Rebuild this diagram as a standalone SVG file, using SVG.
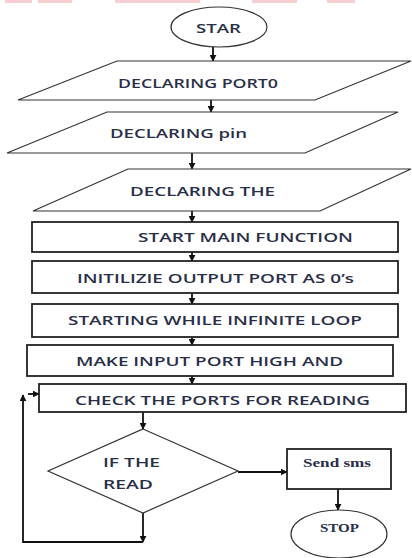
<svg xmlns="http://www.w3.org/2000/svg" width="412" height="558" viewBox="0 0 412 558">
<defs>
<marker id="ah" viewBox="0 0 10 10" refX="9" refY="5" markerWidth="7" markerHeight="7" orient="auto-start-reverse" markerUnits="userSpaceOnUse">
<path d="M0,0 L10,5 L0,10 z" fill="#111"/>
</marker>
<style>
.io{fill:#fff;stroke:#333;stroke-width:1.2}
.box{fill:#fff;stroke:#222;stroke-width:1.8}
.term{fill:#fff;stroke:#333;stroke-width:1.2}
.t{font-family:"Open Sans","Liberation Sans",sans-serif;font-size:13px;font-weight:600;fill:#2a2f48}
.s{font-family:"Liberation Serif","DejaVu Serif",serif;font-size:12px;font-weight:bold;fill:#2a2f48}
.c{fill:none;stroke:#111;stroke-width:1.8}
.wm{fill:#f6cfd2}
</style>
</defs>
<g id="watermark">
<rect class="wm" x="5" y="0" width="27" height="3"/>
<rect class="wm" x="38" y="0" width="34" height="3"/>
<rect class="wm" x="115" y="0" width="85" height="3"/>
<rect class="wm" x="252" y="0" width="45" height="3"/>
<rect class="wm" x="327" y="0" width="28" height="3"/>
</g>
<g id="connectors">
<line class="c" x1="213" y1="47" x2="213" y2="61" marker-end="url(#ah)"/>
<line class="c" x1="211" y1="100" x2="211" y2="112" marker-end="url(#ah)"/>
<line class="c" x1="192" y1="153" x2="192" y2="169" marker-end="url(#ah)"/>
<line class="c" x1="192" y1="211" x2="192" y2="222" marker-end="url(#ah)"/>
<line class="c" x1="192" y1="252" x2="192" y2="261" marker-end="url(#ah)"/>
<line class="c" x1="192" y1="293" x2="192" y2="304" marker-end="url(#ah)"/>
<line class="c" x1="192" y1="337" x2="192" y2="345" marker-end="url(#ah)"/>
<line class="c" x1="192" y1="376" x2="192" y2="384" marker-end="url(#ah)"/>
<line class="c" x1="143" y1="412" x2="143" y2="429" marker-end="url(#ah)"/>
<line class="c" x1="143" y1="513" x2="143" y2="542" marker-end="url(#ah)"/>
<polyline class="c" points="143,542 23,542 23,395" marker-end="url(#ah)"/>
<line class="c" x1="28" y1="394" x2="39" y2="394" marker-end="url(#ah)"/>
<line class="c" x1="238" y1="472" x2="287" y2="472" marker-end="url(#ah)"/>
<line class="c" x1="338" y1="489" x2="338" y2="510" marker-end="url(#ah)"/>
</g>
<g id="start">
<ellipse class="term" cx="219" cy="27" rx="48" ry="20"/>
<text class="t" x="218.5" y="33" text-anchor="middle" font-size="14" textLength="45" lengthAdjust="spacingAndGlyphs">STAR</text>
</g>
<g id="decl-port0">
<polygon class="io" points="117,61 411,61 315,100 18,100"/>
<text class="t" x="118" y="88" textLength="160" lengthAdjust="spacingAndGlyphs">DECLARING PORT0</text>
</g>
<g id="decl-pin">
<polygon class="io" points="107,112 398,112 305,153 7,153"/>
<text class="t" x="110" y="138" textLength="137" lengthAdjust="spacingAndGlyphs">DECLARING pin</text>
</g>
<g id="decl-the">
<polygon class="io" points="128,169 411,169 320,211 33,211"/>
<text class="t" x="130" y="196" textLength="145" lengthAdjust="spacingAndGlyphs">DECLARING THE</text>
</g>
<g id="start-main">
<rect class="box" x="32" y="222" width="366" height="30"/>
<text class="t" x="138" y="242" textLength="215" lengthAdjust="spacingAndGlyphs">START MAIN FUNCTION</text>
</g>
<g id="init-output">
<rect class="box" x="32" y="261" width="366" height="32"/>
<text class="t" x="77" y="283" textLength="277" lengthAdjust="spacingAndGlyphs">INITILIZIE OUTPUT PORT AS 0’s</text>
</g>
<g id="while-loop">
<rect class="box" x="32" y="304" width="366" height="33"/>
<text class="t" x="68" y="325" textLength="294" lengthAdjust="spacingAndGlyphs">STARTING WHILE INFINITE LOOP</text>
</g>
<g id="make-input">
<rect class="box" x="27" y="345" width="366" height="31"/>
<text class="t" x="76" y="366" textLength="267" lengthAdjust="spacingAndGlyphs">MAKE INPUT PORT HIGH AND</text>
</g>
<g id="check-ports">
<rect class="box" x="39" y="384" width="367" height="28"/>
<text class="t" x="75" y="405" textLength="295" lengthAdjust="spacingAndGlyphs">CHECK THE PORTS FOR READING</text>
</g>
<g id="decision">
<polygon class="io" points="143,429 238,471 143,513 48,471"/>
<text class="t" x="103" y="467" textLength="57" lengthAdjust="spacingAndGlyphs">IF THE</text>
<text class="t" x="103" y="489" textLength="50" lengthAdjust="spacingAndGlyphs">READ</text>
</g>
<g id="send-sms">
<rect class="box" x="287" y="449" width="104" height="40" stroke-width="1.4"/>
<text class="s" x="303" y="467" textLength="68" lengthAdjust="spacingAndGlyphs">Send sms</text>
</g>
<g id="stop">
<ellipse class="term" cx="339" cy="534" rx="48" ry="24"/>
<text class="s" x="339.5" y="532" text-anchor="middle" textLength="39" lengthAdjust="spacingAndGlyphs">STOP</text>
</g>
</svg>
